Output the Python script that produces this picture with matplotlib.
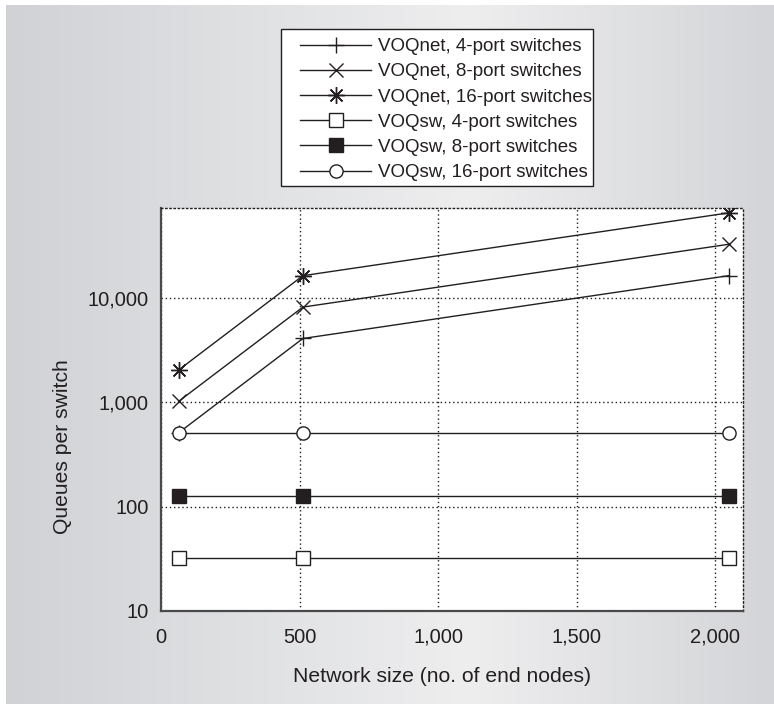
import numpy as np
import matplotlib
matplotlib.use("Agg")
import matplotlib.pyplot as plt
from matplotlib.colors import LinearSegmentedColormap
from matplotlib.patches import Rectangle
from matplotlib.ticker import FixedLocator, FuncFormatter

plt.rcParams['font.family'] = ['Liberation Sans', 'DejaVu Sans']

# data
network_size = [64, 512, 2048]
voqnet_4 = [512, 4096, 16384]
voqnet_8 = [1024, 8192, 32768]
voqnet_16 = [2048, 16384, 65536]
voqsw_4 = [32, 32, 32]
voqsw_8 = [128, 128, 128]
voqsw_16 = [512, 512, 512]

labels = ['VOQnet, 4-port switches', 'VOQnet, 8-port switches',
          'VOQnet, 16-port switches', 'VOQsw, 4-port switches',
          'VOQsw, 8-port switches', 'VOQsw, 16-port switches']

ink = '#231f20'
W, H = 774, 704

fig = plt.figure(figsize=(7.74, 7.04), dpi=100)

# gray gradient panel behind everything
bg = fig.add_axes([6 / W, 0, 1 - 6 / W, 1 - 5 / H], zorder=-10)
cmap = LinearSegmentedColormap.from_list(
    'panel', [(0.0, '#d0d2d5'), (0.6, '#eeeeef'), (1.0, '#d4d5d8')])
bg.imshow(np.linspace(0, 1, 256)[None, :], aspect='auto', cmap=cmap,
          extent=[0, 1, 0, 1])
bg.set_axis_off()

ax = fig.add_axes([161 / W, 1 - 611 / H, (743 - 161) / W, (611 - 208) / H])
ax.set_facecolor('white')

ms = 9.5
ax.plot(network_size, voqnet_4, color=ink, lw=1.0, marker='+', ms=12, mew=1.0, label=labels[0])
ax.plot(network_size, voqnet_8, color=ink, lw=1.0, marker='x', ms=10, mew=1.0, label=labels[1])
ax.plot(network_size, voqnet_16, color=ink, lw=1.0, marker=(8, 2, 0), ms=12, mew=1.0, label=labels[2])
ax.plot(network_size, voqsw_4, color=ink, lw=1.0, marker='s', ms=ms, mew=1.0,
        mfc='white', mec=ink, label=labels[3])
ax.plot(network_size, voqsw_8, color=ink, lw=1.0, marker='s', ms=ms, mew=1.0,
        mfc=ink, mec=ink, label=labels[4])
ax.plot(network_size, voqsw_16, color=ink, lw=1.0, marker='o', ms=ms, mew=1.0,
        mfc='white', mec=ink, label=labels[5])

ax.set_yscale('log')
ax.set_xlim(0, 2100)
ax.set_ylim(10, 73000)
ax.xaxis.set_major_locator(FixedLocator([0, 500, 1000, 1500, 2000]))
ax.yaxis.set_major_locator(FixedLocator([10, 100, 1000, 10000]))
ax.yaxis.set_minor_locator(FixedLocator([]))
fmt = FuncFormatter(lambda v, p: f'{int(v):,}')
ax.xaxis.set_major_formatter(fmt)
ax.yaxis.set_major_formatter(fmt)
ax.tick_params(length=0, labelsize=14.5, colors=ink)
ax.tick_params(axis='x', pad=12)
ax.tick_params(axis='y', pad=9)

ax.grid(True, which='major', linestyle=(0, (1, 2)), color=ink, lw=1.0)
for side in ['left', 'bottom']:
    ax.spines[side].set_color('#4a4a4a')
    ax.spines[side].set_linewidth(1.6)
for side in ['top', 'right']:
    ax.spines[side].set_linestyle((0, (1, 2)))
    ax.spines[side].set_color(ink)
    ax.spines[side].set_linewidth(1.0)

ax.set_xlabel('Network size (no. of end nodes)', fontsize=15.2, color=ink)
ax.set_ylabel('Queues per switch', fontsize=15.2, color=ink)
ax.xaxis.set_label_coords((442 - 161) / 582, (611 - 667) / 403)
ax.yaxis.set_label_coords((72 - 161) / 582, (611 - 447) / 403)

# legend box drawn separately so the padding matches the original
box = Rectangle((281 / W, 1 - 186 / H), (593 - 281) / W, (186 - 29) / H,
                transform=fig.transFigure, facecolor='white', edgecolor=ink,
                lw=1.0, zorder=1)
fig.patches.append(box)
leg = fig.legend(loc='upper left', bbox_to_anchor=(300 / W, 1 - 38 / H),
                 fontsize=13.5, frameon=False, handlelength=3.8,
                 labelspacing=0.43, borderpad=0, handletextpad=0.35,
                 borderaxespad=0)
leg.set_zorder(2)
for t in leg.get_texts():
    t.set_color(ink)

fig.savefig('out.png', dpi=100)
